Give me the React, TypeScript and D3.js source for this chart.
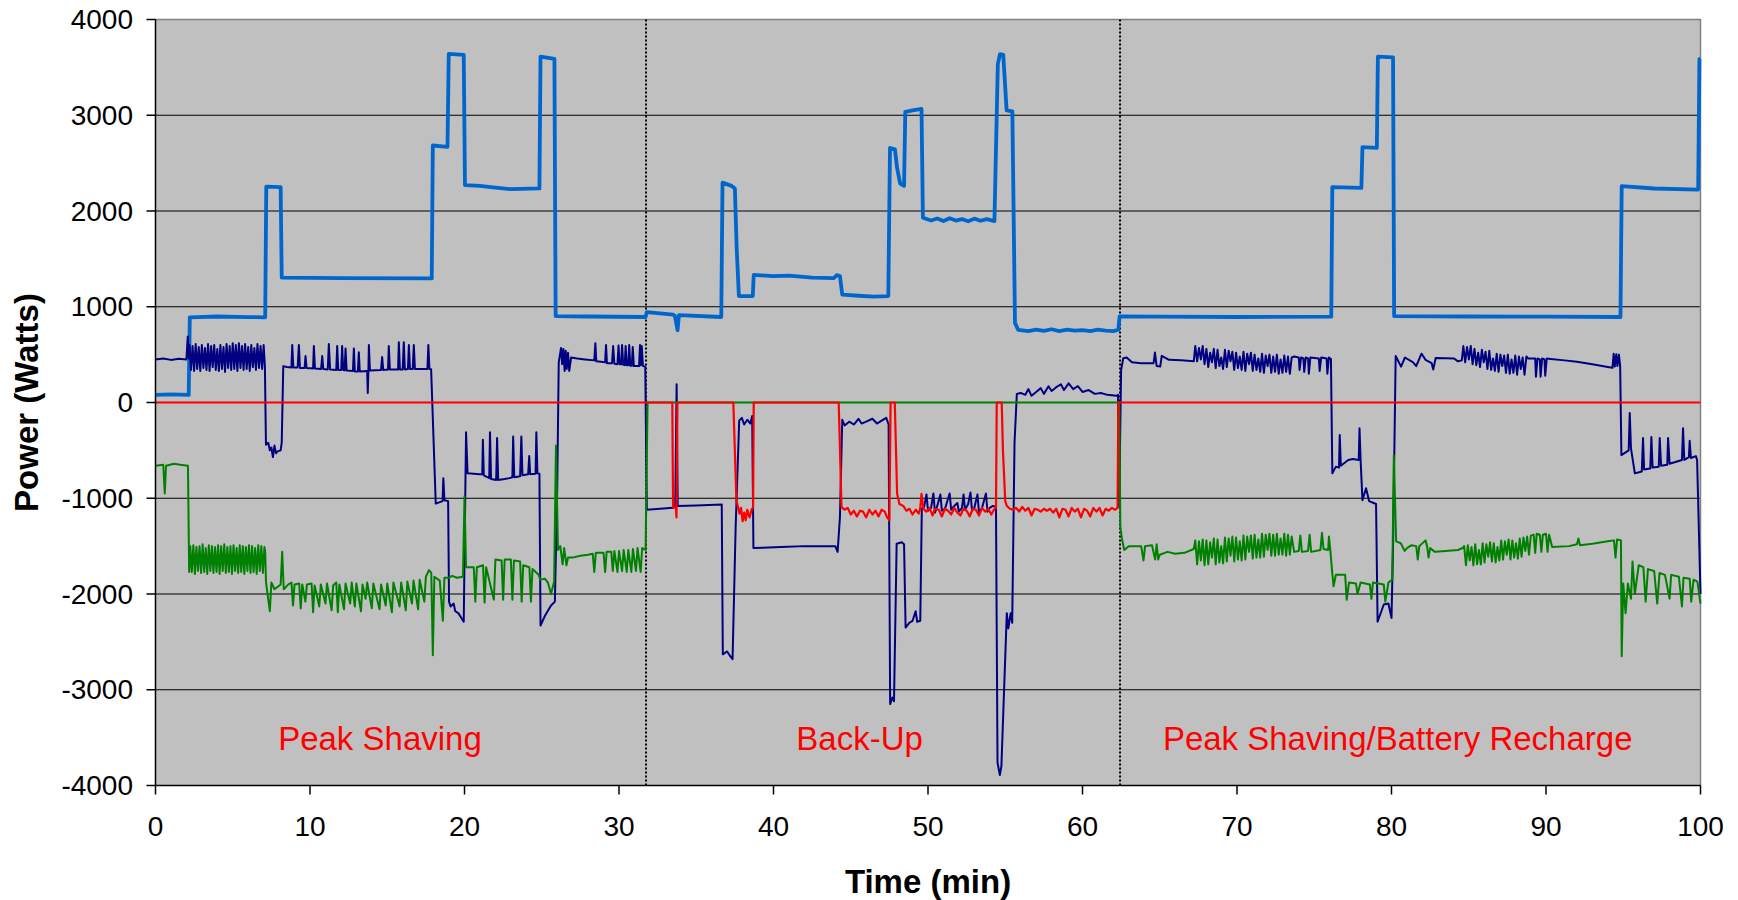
import React from "react";
import * as d3 from "d3";

type P = [number, number];

const X_TICKS = [0, 10, 20, 30, 40, 50, 60, 70, 80, 90, 100];
const Y_TICKS = [-4000, -3000, -2000, -1000, 0, 1000, 2000, 3000, 4000];
const X_TITLE = "Time (min)";
const Y_TITLE = "Power (Watts)";

const MODE_MARKERS = [31.75, 62.43];
const MODE_LABELS: { t: number; v: number; text: string }[] = [
  { t: 14.53, v: -3630, text: "Peak Shaving" },
  { t: 45.57, v: -3630, text: "Back-Up" },
  { t: 80.4, v: -3630, text: "Peak Shaving/Battery Recharge" },
];

// light blue series
const loadSeries: P[] = [
  [0, 80], [1, 85], [2.15, 80], [2.22, 890], [4, 898], [6, 892], [7.1, 890], [7.17, 2255], [8.1, 2250], [8.17, 1305],
  [12, 1300], [17.88, 1296], [17.95, 2684], [18.9, 2670], [18.98, 3640], [19.95, 3630], [20.03, 2270], [21, 2262],
  [22, 2245], [23, 2228], [24.85, 2236], [24.92, 3612], [25.82, 3590], [25.9, 903], [28, 898], [31.72, 893],
  [31.8, 944], [33.5, 918], [33.62, 905], [33.79, 755], [33.88, 913], [36.62, 893], [36.7, 2296], [37.29, 2262],
  [37.5, 2235], [37.62, 1600], [37.76, 1112], [38.66, 1112], [38.72, 1332], [40, 1320], [41, 1325], [42.5, 1305],
  [43.9, 1300], [44.1, 1330], [44.3, 1320], [44.45, 1127], [45.5, 1115], [46.5, 1105], [47.43, 1112], [47.54, 2658],
  [47.86, 2643], [48.0, 2450], [48.2, 2285], [48.45, 2262], [48.53, 3036], [49.0, 3050], [49.58, 3066], [49.67, 1930],
  [50.2, 1900], [50.6, 1922], [51.0, 1895], [51.4, 1925], [51.8, 1900], [52.2, 1915], [52.6, 1893], [53.0, 1920],
  [53.4, 1898], [53.8, 1915], [54.3, 1895], [54.52, 3536], [54.66, 3638], [54.87, 3630], [55.09, 3051],
  [55.46, 3041], [55.63, 832], [55.84, 758], [56.5, 745], [57, 760], [57.5, 748], [58, 765], [58.5, 745], [59, 760],
  [59.5, 750], [60, 756], [60.5, 745], [61, 760], [61.5, 750], [62, 745], [62.32, 760], [62.4, 898], [65, 896],
  [70, 893], [76.1, 896], [76.17, 2250], [78.05, 2242], [78.12, 2668], [79.05, 2660], [79.12, 3612], [80.1, 3605],
  [80.17, 903], [85, 898], [90, 896], [94.82, 893], [94.9, 2260], [97, 2235], [99.85, 2224], [99.93, 3587], [100, 3590],
];

// navy series
const navySeries: P[] = [
  [0, 450], [0.5, 460], [1.0, 445], [1.5, 458], [2.0, 450], [2.09, 690], [2.15, 460],
  [2.2, 600], [2.3, 340], [2.4, 590], [2.5, 330], [2.6, 610], [2.7, 350], [2.8, 580], [2.9, 330], [3.0, 600],
  [3.1, 360], [3.2, 570], [3.3, 340], [3.4, 610], [3.5, 330], [3.6, 590], [3.7, 370], [3.8, 600], [3.9, 340],
  [4.0, 560], [4.1, 330], [4.2, 600], [4.3, 350], [4.4, 580], [4.5, 320], [4.6, 610], [4.7, 360], [4.8, 590],
  [4.9, 340], [5.0, 620], [5.1, 350], [5.2, 600], [5.3, 330], [5.4, 620], [5.5, 360], [5.6, 590], [5.7, 340],
  [5.8, 610], [5.9, 350], [6.0, 580], [6.1, 330], [6.2, 600], [6.3, 370], [6.4, 570], [6.5, 340], [6.6, 610],
  [6.7, 360], [6.8, 590], [6.9, 350], [7.0, 600], [7.08, 380],
  [7.15, -440], [7.3, -420], [7.4, -500], [7.5, -470], [7.6, -570], [7.7, -450], [7.8, -530], [7.9, -510],
  [8.1, -500], [8.17, -420], [8.27, 380], [8.5, 370], [8.8, 365], [8.85, 600], [8.92, 365], [9.2, 365],
  [9.28, 600], [9.35, 360], [9.65, 360], [9.71, 485], [9.78, 360], [10.2, 355], [10.25, 590], [10.32, 355],
  [10.72, 350], [10.79, 485], [10.86, 350], [11.15, 345], [11.22, 610], [11.3, 345], [11.7, 340], [11.76, 590],
  [11.83, 340], [12.02, 340], [12.08, 590], [12.15, 340], [12.24, 335], [12.3, 565], [12.37, 335], [12.78, 330],
  [12.84, 565], [12.9, 325], [13.1, 325], [13.16, 525], [13.22, 325], [13.7, 330], [13.74, 100], [13.78, 330],
  [13.81, 600], [13.88, 335], [14.6, 340], [14.67, 475], [14.74, 340], [15.05, 345], [15.1, 590], [15.17, 345],
  [15.7, 345], [15.75, 630], [15.82, 345], [16.0, 345], [16.07, 630], [16.14, 345], [16.34, 350], [16.4, 600],
  [16.47, 350], [16.65, 350], [16.72, 600], [16.79, 350], [17.6, 350], [17.66, 600], [17.73, 350], [17.84, 348],
  [18.14, -1056], [18.4, -1040], [18.58, -1030], [18.63, -790], [18.7, -1020], [18.94, -1030], [19.0, -2080],
  [19.1, -2130], [19.3, -2100], [19.4, -2180], [19.6, -2200], [19.8, -2250], [19.95, -2290], [20.1, -310],
  [20.2, -740], [20.6, -745], [21.0, -750], [21.15, -750], [21.19, -390], [21.25, -760], [21.6, -790],
  [21.65, -310], [21.72, -800], [22.05, -810], [22.11, -370], [22.18, -810], [22.6, -800], [22.9, -790],
  [23.1, -780], [23.15, -355], [23.22, -780], [23.6, -770], [23.68, -355], [23.75, -760], [24.12, -750],
  [24.19, -560], [24.25, -750], [24.6, -745], [24.65, -310], [24.72, -740], [24.85, -745], [24.92, -2330],
  [25.2, -2230], [25.6, -2120], [25.85, -2080], [26.0, -900], [26.1, 420], [26.25, 570], [26.32, 400], [26.4, 560],
  [26.48, 330], [26.55, 540], [26.62, 350], [26.7, 520], [26.78, 330], [26.9, 470], [27.3, 460], [27.8, 450],
  [28.4, 440], [28.47, 620], [28.53, 430], [29.1, 420], [29.16, 600], [29.22, 410], [29.55, 410], [29.62, 590],
  [29.7, 405], [29.9, 400], [29.97, 595], [30.04, 400], [30.14, 400], [30.2, 600], [30.27, 395], [30.37, 390],
  [30.43, 590], [30.5, 390], [30.6, 390], [30.66, 600], [30.73, 385], [30.83, 385], [30.89, 580], [30.96, 380],
  [31.3, 380], [31.36, 600], [31.41, 390], [31.47, 590], [31.55, 380], [31.7, 375], [31.8, -1120],
  [33.5, -1100], [33.64, -1090], [33.73, 190], [33.8, -1080], [35, -1075], [36.65, -1065], [36.72, -2630],
  [37.0, -2600], [37.2, -2650], [37.35, -2680], [37.55, -1300], [37.78, -190], [37.95, -160], [38.1, -230],
  [38.3, -180], [38.5, -220], [38.62, -140], [38.7, -1520], [40.5, -1510], [42, -1500], [44.0, -1500],
  [44.15, -1560], [44.3, -1200], [44.45, -180], [44.6, -240], [44.9, -200], [45.2, -230], [45.5, -170],
  [45.7, -220], [46.0, -200], [46.4, -170], [46.7, -220], [47.0, -190], [47.3, -160], [47.45, -230],
  [47.55, -3150], [47.7, -3080], [47.8, -3120], [47.97, -1475], [48.3, -1460], [48.45, -1480], [48.55, -2350],
  [48.8, -2300], [49.0, -2280], [49.2, -2180], [49.3, -2290], [49.5, -2280], [49.6, -1110], [49.75, -1090],
  [49.9, -960], [50.0, -1130], [50.2, -1100], [50.35, -950], [50.45, -1150], [50.6, -1080], [50.8, -960],
  [50.9, -1130], [51.1, -1110], [51.4, -950], [51.5, -1120], [51.7, -1080], [51.9, -1050], [52.0, -1140],
  [52.2, -1100], [52.3, -960], [52.4, -1120], [52.6, -1060], [52.75, -940], [52.85, -1130], [53.0, -1100],
  [53.2, -960], [53.3, -1150], [53.5, -1100], [53.75, -950], [53.85, -1140], [54.0, -1100], [54.2, -1080],
  [54.4, -1090], [54.5, -3760], [54.65, -3890], [54.75, -3800], [55.1, -2200], [55.2, -2360], [55.35, -2200],
  [55.45, -2300], [55.6, -420], [55.75, 90], [56, 100], [56.3, 80], [56.5, 140], [56.7, 70], [57, 110],
  [57.3, 150], [57.5, 90], [57.8, 170], [58, 120], [58.3, 160], [58.6, 190], [58.8, 130], [59.1, 200],
  [59.4, 140], [59.7, 170], [60, 110], [60.4, 130], [60.8, 90], [61.2, 100], [61.6, 80], [62.2, 70], [62.3, 80],
  [62.37, -1090], [62.5, 340], [62.64, 463], [62.86, 470], [63.2, 420], [63.8, 411], [64.6, 410], [64.69, 522],
  [64.8, 380], [65.03, 376], [65.13, 487], [65.6, 446], [66.4, 440], [67.2, 430],
  [67.3, 590], [67.42, 430], [67.54, 570], [67.66, 450], [67.78, 590], [67.9, 400], [68.02, 560], [68.14, 370],
  [68.26, 520], [68.38, 420], [68.5, 560], [68.62, 360], [68.74, 550], [68.86, 380], [68.98, 470], [69.1, 350],
  [69.22, 550], [69.34, 370], [69.46, 540], [69.58, 430], [69.7, 530], [69.82, 340], [69.94, 520], [70.06, 360],
  [70.18, 480], [70.3, 340], [70.42, 530], [70.54, 330], [70.66, 510], [70.78, 400], [70.9, 520], [71.02, 330],
  [71.14, 500], [71.26, 340], [71.38, 460], [71.5, 320], [71.62, 510], [71.74, 310], [71.86, 490], [71.98, 380],
  [72.1, 500], [72.22, 310], [72.34, 480], [72.46, 320], [72.58, 500], [72.7, 300], [72.82, 450], [72.94, 310],
  [73.06, 490], [73.18, 320], [73.3, 480], [73.42, 300], [73.54, 470], [73.7, 480],
  [74.0, 470], [74.05, 340], [74.15, 470], [74.3, 460], [74.35, 320], [74.45, 470], [74.6, 460],
  [74.65, 300], [74.75, 470], [75.3, 460], [75.35, 330], [75.45, 470], [75.8, 460], [75.85, 300], [75.95, 470],
  [76.08, 453], [76.17, -740], [76.4, -670], [76.6, -680], [76.65, -340], [76.72, -660], [77.2, -600],
  [77.5, -590], [77.88, -600], [77.93, -270], [78.0, -600], [78.12, -1020], [78.35, -895], [78.45, -960],
  [78.55, -1030], [79.0, -1060], [79.1, -2290], [79.5, -2110], [79.8, -2100], [80.0, -2250], [80.1, -1500],
  [80.27, 485], [80.62, 375], [80.87, 470], [81.4, 420], [81.6, 380], [81.94, 510], [82.2, 446], [82.6, 411],
  [82.7, 345], [82.86, 465], [83.5, 462], [84.05, 460], [84.3, 430], [84.55, 440],
  [84.65, 590], [84.77, 420], [84.89, 580], [85.01, 450], [85.13, 590], [85.25, 400], [85.37, 560], [85.49, 390],
  [85.61, 520], [85.73, 370], [85.85, 550], [85.97, 420], [86.09, 530], [86.21, 350], [86.33, 540], [86.45, 340],
  [86.57, 460], [86.69, 330], [86.81, 510], [86.93, 320], [87.05, 500], [87.17, 380], [87.29, 490], [87.41, 310],
  [87.53, 500], [87.65, 300], [87.77, 450], [87.89, 310], [88.01, 490], [88.13, 290], [88.25, 480], [88.37, 350],
  [88.49, 470], [88.61, 290], [88.73, 480], [88.85, 460],
  [89.3, 460], [89.35, 270], [89.45, 460], [89.6, 450], [89.65, 270],
  [89.75, 460], [89.9, 450], [89.95, 280], [90.05, 460], [90.3, 455], [91.2, 440], [92.0, 425], [93.0, 400],
  [94.0, 370], [94.3, 362], [94.38, 510], [94.45, 375], [94.55, 505], [94.62, 380], [94.72, 500], [94.8, 380],
  [94.88, -550], [95.35, -500], [95.42, -110], [95.5, -480], [95.75, -740], [96.2, -720], [96.28, -370],
  [96.35, -700], [96.75, -690], [96.82, -360], [96.9, -680], [97.3, -670], [97.36, -370], [97.45, -660],
  [97.85, -650], [97.9, -370], [98.0, -640], [98.8, -600], [98.87, -270], [98.95, -600], [99.25, -570],
  [99.3, -400], [99.38, -580], [99.7, -560], [99.78, -600], [100, -2000],
];

// green series
const greenSeries: P[] = [
  [0, -660], [0.5, -650], [0.6, -950], [0.68, -660], [1.2, -640], [1.6, -650], [2.1, -660], [2.18, -1770],
  [2.25, -1500], [2.35, -1770], [2.45, -1490], [2.55, -1790], [2.65, -1510], [2.75, -1760], [2.85, -1500],
  [2.95, -1780], [3.05, -1480], [3.15, -1770], [3.25, -1520], [3.35, -1790], [3.45, -1490], [3.55, -1760],
  [3.65, -1500], [3.75, -1780], [3.85, -1510], [3.95, -1770], [4.05, -1490], [4.15, -1790], [4.25, -1500],
  [4.35, -1760], [4.45, -1480], [4.55, -1780], [4.65, -1510], [4.75, -1770], [4.85, -1500], [4.95, -1790],
  [5.05, -1490], [5.15, -1760], [5.25, -1520], [5.35, -1780], [5.45, -1490], [5.55, -1770], [5.65, -1500],
  [5.75, -1790], [5.85, -1510], [5.95, -1760], [6.05, -1490], [6.15, -1780], [6.25, -1500], [6.35, -1770],
  [6.45, -1520], [6.55, -1790], [6.65, -1490], [6.75, -1760], [6.85, -1500], [6.95, -1780], [7.05, -1510],
  [7.1, -1560], [7.15, -1870], [7.25, -2000], [7.4, -2180], [7.5, -1880], [7.7, -1950], [8.1, -1900],
  [8.2, -1560], [8.3, -1950], [8.6, -1900], [8.8, -1880], [8.9, -2120], [9.0, -1900], [9.3, -1890],
  [9.4, -2150], [9.5, -1900], [9.7, -2080], [9.8, -1900], [10.1, -1890], [10.2, -2190], [10.3, -1910],
  [10.6, -2130], [10.7, -1900], [11.0, -2100], [11.1, -1890], [11.4, -2170], [11.5, -1910], [11.7, -1880],
  [11.8, -2190], [11.9, -1900], [12.2, -2160], [12.3, -1890], [12.6, -2100], [12.7, -1880], [12.9, -2130],
  [13.0, -1890], [13.3, -2180], [13.4, -1900], [13.6, -2050], [13.7, -1880], [14.0, -2150], [14.1, -1890],
  [14.5, -2160], [14.6, -1900], [14.9, -2120], [15.0, -1890], [15.3, -2190], [15.4, -1880], [15.8, -2130],
  [15.9, -1880], [16.2, -2170], [16.3, -1870], [16.6, -2100], [16.7, -1860], [17.0, -2160], [17.1, -1850],
  [17.4, -2080], [17.5, -1820], [17.7, -1750], [17.85, -1780], [17.95, -2640], [18.05, -1820], [18.4, -1860],
  [18.6, -2280], [18.7, -1830], [19.0, -1830], [19.2, -1810], [19.5, -1830], [19.9, -1820], [20.0, -980],
  [20.1, -1720], [20.6, -1720], [20.7, -2080], [20.8, -1720], [21.2, -1700], [21.3, -2090], [21.4, -1720],
  [21.9, -2060], [22.0, -1640], [22.4, -1650], [22.5, -2060], [22.6, -1640], [23.0, -1640], [23.1, -2060],
  [23.2, -1650], [23.6, -1660], [23.7, -2080], [23.8, -1700], [24.2, -1720], [24.3, -2080], [24.4, -1740],
  [24.8, -1800], [24.9, -1850], [25.2, -1840], [25.4, -1880], [25.6, -2000], [25.8, -1870], [25.92, -450],
  [26.05, -1540], [26.2, -1500], [26.35, -1690], [26.45, -1520], [26.6, -1700], [26.7, -1620], [27.0, -1620],
  [27.5, -1600], [28, -1590], [28.3, -1580], [28.4, -1770], [28.5, -1570], [29.0, -1570], [29.1, -1770],
  [29.2, -1560], [29.5, -1560], [29.6, -1760], [29.7, -1550], [29.9, -1770], [30.0, -1550], [30.2, -1760],
  [30.3, -1540], [30.5, -1770], [30.6, -1540], [30.8, -1770], [30.9, -1530], [31.1, -1760], [31.2, -1520],
  [31.4, -1770], [31.5, -1520], [31.72, -1540], [31.85, 0], [62.38, 0], [62.45, -1300], [62.55, -1420],
  [62.7, -1540], [63.0, -1500], [63.8, -1500], [63.95, -1650], [64.05, -1500], [64.5, -1490], [64.7, -1640],
  [64.8, -1480], [64.9, -1640], [65.0, -1590], [65.5, -1560], [66.0, -1580], [66.6, -1570], [67.2, -1530],
  [67.3, -1440], [67.42, -1690], [67.54, -1450], [67.66, -1650], [67.78, -1430], [67.9, -1700], [68.02, -1440],
  [68.14, -1690], [68.26, -1460], [68.38, -1620], [68.5, -1420], [68.62, -1690], [68.74, -1430], [68.86, -1670],
  [68.98, -1500], [69.1, -1680], [69.22, -1410], [69.34, -1660], [69.46, -1420], [69.58, -1600], [69.7, -1400],
  [69.82, -1660], [69.94, -1410], [70.06, -1640], [70.18, -1450], [70.3, -1650], [70.42, -1390], [70.54, -1640],
  [70.66, -1400], [70.78, -1560], [70.9, -1390], [71.02, -1630], [71.14, -1380], [71.26, -1620], [71.38, -1430],
  [71.5, -1620], [71.62, -1370], [71.74, -1610], [71.86, -1380], [71.98, -1540], [72.1, -1370], [72.22, -1600],
  [72.34, -1380], [72.46, -1600], [72.58, -1370], [72.7, -1590], [72.82, -1420], [72.94, -1590], [73.06, -1370],
  [73.18, -1600], [73.3, -1380], [73.42, -1590], [73.54, -1400], [73.7, -1560],
  [74.0, -1550], [74.1, -1390], [74.2, -1560], [74.6, -1550], [74.7, -1380],
  [74.8, -1560], [75.4, -1540], [75.5, -1360], [75.6, -1530], [75.9, -1540], [75.95, -1400], [76.05, -1560],
  [76.15, -1750], [76.25, -1920], [76.4, -1800], [77.0, -1800], [77.1, -2060], [77.25, -1880], [77.7, -1890],
  [77.8, -2000], [78.0, -1880], [78.6, -1900], [78.7, -2050], [78.8, -1880], [79.5, -1900], [79.6, -2080],
  [79.8, -1880], [80.05, -1850], [80.15, -550], [80.3, -1450], [80.6, -1470], [80.85, -1550], [81.0, -1520],
  [81.3, -1490], [81.6, -1500], [81.7, -1640], [81.8, -1500], [82.2, -1440], [82.3, -1500], [82.4, -1620],
  [82.5, -1520], [82.8, -1560], [83.5, -1550], [84.3, -1540], [84.6, -1520],
  [84.7, -1500], [84.82, -1700], [84.94, -1490], [85.06, -1650], [85.18, -1510], [85.3, -1700], [85.42, -1480],
  [85.54, -1690], [85.66, -1540], [85.78, -1690], [85.9, -1470], [86.02, -1670], [86.14, -1480], [86.26, -1610],
  [86.38, -1460], [86.5, -1660], [86.62, -1470], [86.74, -1670], [86.86, -1510], [86.98, -1650], [87.1, -1440],
  [87.22, -1640], [87.34, -1450], [87.46, -1590], [87.58, -1430], [87.7, -1640], [87.82, -1440], [87.94, -1620],
  [88.06, -1470], [88.18, -1630], [88.3, -1420], [88.42, -1610], [88.54, -1410], [88.66, -1550], [88.78, -1400],
  [88.9, -1590], [89.02, -1390], [89.2, -1380], [89.3, -1570], [89.4, -1370], [89.6, -1380], [89.7, -1560],
  [89.8, -1380], [90.0, -1370], [90.1, -1560], [90.2, -1380], [90.4, -1510], [91.5, -1500], [92.0, -1480],
  [92.1, -1420], [92.2, -1490], [93.0, -1475], [94.0, -1450], [94.4, -1440], [94.5, -1620], [94.6, -1430],
  [94.85, -1440], [94.9, -2650], [95.0, -1890], [95.15, -2200], [95.3, -1890], [95.5, -2050], [95.6, -1660],
  [95.75, -2000], [96.0, -1700], [96.3, -1720], [96.45, -2080], [96.6, -1740], [97.0, -1760], [97.2, -2100],
  [97.35, -1780], [97.7, -1800], [98.0, -2050], [98.1, -1800], [98.6, -1820], [98.8, -2130], [98.9, -1830],
  [99.3, -1840], [99.4, -2080], [99.55, -1850], [99.8, -1870], [100, -2100],
];

// red series
const redSeries: P[] = [
  [0, 0], [33.45, 0], [33.5, -1090], [33.68, -1100], [33.72, -1200], [33.78, 0], [37.4, 0], [37.6, -1020],
  [37.8, -1160], [37.9, -1100], [38.0, -1240], [38.1, -1150], [38.2, -1230], [38.3, -1120], [38.45, -1200],
  [38.6, -1110], [38.68, -1100], [38.72, 0], [44.22, 0], [44.4, -1090], [44.6, -1120], [44.8, -1100],
  [45.0, -1170], [45.2, -1130], [45.4, -1190], [45.6, -1130], [45.8, -1140], [46.0, -1200], [46.2, -1120],
  [46.4, -1170], [46.6, -1130], [46.8, -1190], [47.0, -1120], [47.2, -1140], [47.35, -1200], [47.5, -1230],
  [47.58, 0], [47.85, 0], [48.0, -950], [48.15, -1060], [48.4, -1080], [48.6, -1130], [48.8, -1110],
  [49.0, -1170], [49.2, -1120], [49.4, -1160], [49.5, -1100], [49.58, -954], [49.7, -1110], [49.9, -1140],
  [50.1, -1100], [50.3, -1180], [50.45, -1110], [50.7, -1120], [50.9, -1190], [51.1, -1110], [51.3, -1130],
  [51.5, -1170], [51.7, -1100], [51.9, -1150], [52.1, -1180], [52.3, -1110], [52.5, -1130], [52.7, -1190],
  [52.9, -1110], [53.1, -1120], [53.3, -1180], [53.5, -1100], [53.7, -1140], [53.9, -1110], [54.1, -1170],
  [54.3, -1110], [54.4, -1100], [54.45, 0], [54.77, 0], [54.85, -500], [55.0, -1030], [55.1, -1080],
  [55.3, -1110], [55.5, -1120], [55.7, -1100], [55.9, -1140], [56.1, -1090], [56.3, -1130], [56.5, -1100],
  [56.7, -1180], [56.9, -1110], [57.1, -1120], [57.3, -1140], [57.5, -1110], [57.7, -1130], [57.9, -1110],
  [58.1, -1150], [58.3, -1110], [58.5, -1200], [58.7, -1110], [58.9, -1120], [59.1, -1190], [59.3, -1100],
  [59.5, -1140], [59.7, -1110], [59.9, -1200], [60.1, -1110], [60.3, -1130], [60.5, -1190], [60.7, -1100],
  [60.9, -1140], [61.1, -1100], [61.3, -1180], [61.5, -1110], [61.7, -1130], [61.9, -1100], [62.1, -1120],
  [62.27, -1100], [62.32, 0], [100, 0],
];

const SERIES: { data: P[]; color: string; width: number }[] = [
  { data: loadSeries, color: "#0066CC", width: 3.8 },
  { data: navySeries, color: "#000080", width: 2 },
  { data: greenSeries, color: "#008000", width: 2 },
  { data: redSeries, color: "#FF0000", width: 2.2 },
];

const W = 1738;
const H = 900;
const L = 155.5;
const R = 1700.5;
const T = 19.5;
const B = 785.5;
const FONT = "'Liberation Sans', Arial, Helvetica, sans-serif";

export default function App() {
  const x = d3.scaleLinear().domain([0, 100]).range([L, R]);
  const y = d3.scaleLinear().domain([-4000, 4000]).range([B, T]);
  const line = d3
    .line<P>()
    .x((d) => x(d[0]))
    .y((d) => y(d[1]));

  return (
    <svg
      width={W}
      height={H}
      style={{ position: "absolute", left: 0, top: 0, display: "block", background: "#fff" }}
      fontFamily={FONT}
    >
      <rect x={L} y={T} width={R - L} height={B - T} fill="#C0C0C0" />
      {Y_TICKS.map((v) => (
        <line key={"g" + v} x1={L} x2={R} y1={y(v)} y2={y(v)} stroke="#000" strokeWidth={1} />
      ))}
      <line x1={L} x2={R} y1={T} y2={T} stroke="#808080" strokeWidth={1.5} />
      <line x1={R} x2={R} y1={T} y2={B} stroke="#808080" strokeWidth={1.5} />
      {MODE_MARKERS.map((t) => (
        <line
          key={"m" + t}
          x1={x(t)}
          x2={x(t)}
          y1={T}
          y2={B}
          stroke="#000"
          strokeWidth={2}
          strokeDasharray="2 2"
        />
      ))}
      <g fill="none" strokeLinejoin="round" strokeLinecap="butt">
        {SERIES.map((s, i) => (
          <path key={i} d={line(s.data) || ""} stroke={s.color} strokeWidth={s.width} />
        ))}
      </g>
      {MODE_LABELS.map((a) => (
        <text key={a.text} x={x(a.t)} y={y(a.v)} fill="#FF0000" fontSize={33} textAnchor="middle">
          {a.text}
        </text>
      ))}
      <line x1={L} x2={L} y1={T} y2={B} stroke="#000" strokeWidth={1.5} />
      <line x1={L} x2={R} y1={B} y2={B} stroke="#000" strokeWidth={1.5} />
      {Y_TICKS.map((v) => (
        <g key={"y" + v}>
          <line x1={L - 9} x2={L} y1={y(v)} y2={y(v)} stroke="#000" strokeWidth={1.5} />
          <text x={133} y={y(v)} fontSize={28} textAnchor="end" dominantBaseline="central" fill="#000">
            {v}
          </text>
        </g>
      ))}
      {X_TICKS.map((t) => (
        <g key={"x" + t}>
          <line x1={x(t)} x2={x(t)} y1={B} y2={B + 9} stroke="#000" strokeWidth={1.5} />
          <text x={x(t)} y={836} fontSize={28} textAnchor="middle" fill="#000">
            {t}
          </text>
        </g>
      ))}
      <text x={(L + R) / 2} y={893} fontSize={33} fontWeight="bold" textAnchor="middle" fill="#000">
        {X_TITLE}
      </text>
      <text
        transform={`translate(38, ${(T + B) / 2}) rotate(-90)`}
        fontSize={33}
        fontWeight="bold"
        textAnchor="middle"
        fill="#000"
      >
        {Y_TITLE}
      </text>
    </svg>
  );
}
